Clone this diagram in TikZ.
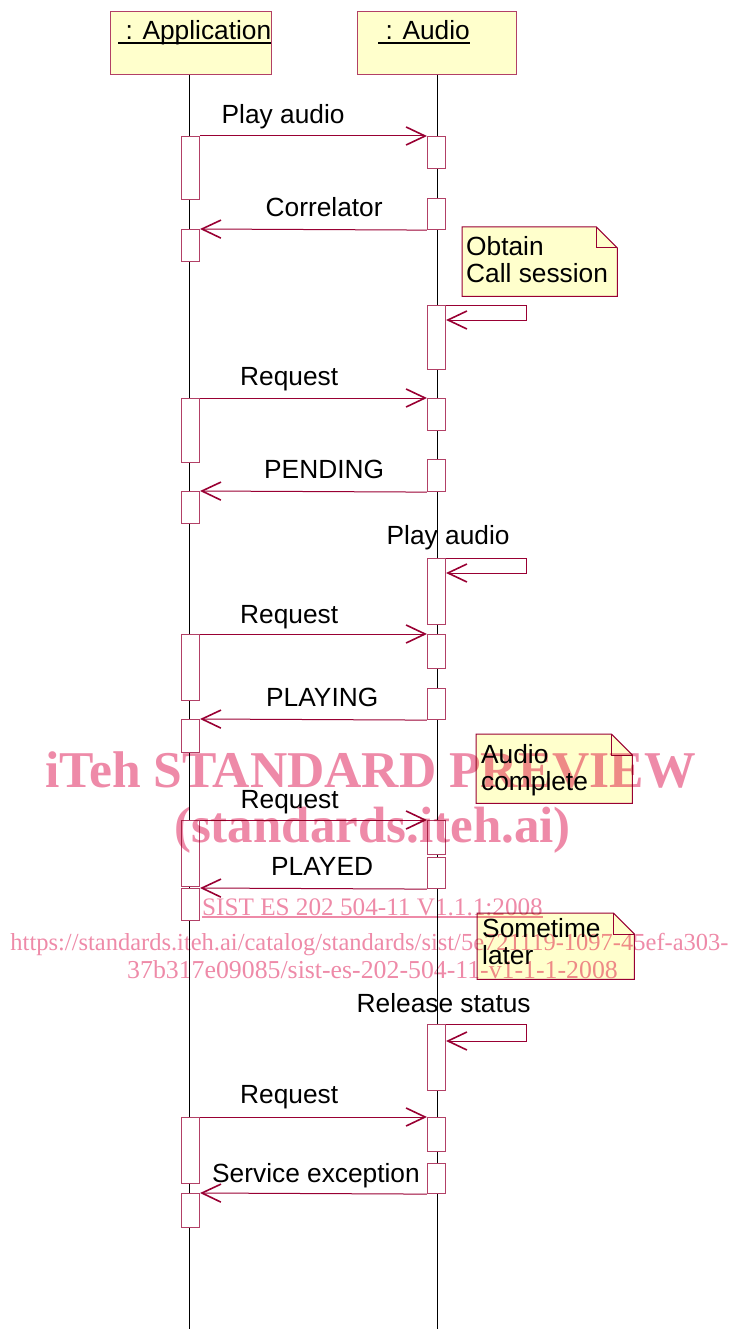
\documentclass[tikz,border=0pt]{standalone}
\usepackage{fontspec}
\setmainfont{Liberation Sans}
\newfontfamily\wmfont{Liberation Serif}
\usetikzlibrary{arrows.meta,calc,positioning}
\definecolor{umlred}{HTML}{990033}
\definecolor{umlfill}{HTML}{FFFFCC}
\definecolor{wmpink}{HTML}{EE8AA8}
\tikzset{
  head/.style={draw=umlred!75, fill=umlfill, line width=1pt, inner sep=0, anchor=north},
  act/.style={draw=umlred!75, fill=white, line width=1.1pt, minimum width=18, inner sep=0, anchor=north},
  life/.style={draw=black, line width=1pt},
  msg/.style={draw=umlred, line width=1pt, -{Straight Barb[length=19pt,width=18pt,line width=1.6pt]}},
  lbl/.style={font=\fontsize{26.3}{27}\selectfont, inner sep=0, anchor=base west},
  notebox/.style={inner sep=0, anchor=north west},
  notetext/.style={font=\fontsize{26.3}{27}\selectfont, inner sep=0, anchor=north west, align=left},
  wm/.style={text=wmpink, inner sep=0, anchor=base},
}
% note outline with folded corner
\newcommand\notepath[1]{%
  \draw[umlred, line width=1pt, fill=umlfill] (#1.north west) -- ($(#1.north east)+(-21,0)$)
    -- ($(#1.north east)+(0,21)$) -- (#1.south east) -- (#1.south west) -- cycle;
  \draw[umlred, line width=1pt] ($(#1.north east)+(-21,0)$) |- ($(#1.north east)+(0,21)$);}
\begin{document}
\begin{tikzpicture}[x=1pt, y=-1pt]
\useasboundingbox (0,0) rectangle (733,1329);
% Oggetti
\node[head, minimum width=161, minimum height=63] (app) at (190.5,11) {};
\node[head, minimum width=159, minimum height=63] (audio) at (436.5,11) {};
\node[lbl] (appname) at (118,40) {\ : Application};
\node[lbl] (audioname) at (378,40) {\ : Audio};
\draw[line width=1.4pt] ($(appname.base west)+(0,3)$) -- ($(appname.base east)+(0,3)$);
\draw[line width=1.4pt] ($(audioname.base west)+(0,3)$) -- ($(audioname.base east)+(0,3)$);
% Linee di vita
\coordinate (append) at (189.5,1329);
\coordinate (audioend) at (437,1329);
\draw[life] (app.south -| append) -- (append);
\draw[life] (audio.south -| audioend) -- (audioend);
% Note
\node[notebox, minimum width=155, minimum height=69] (n1) at (462,227) {};
\node[notebox, minimum width=156, minimum height=69] (n2) at (476,734) {};
\node[notebox, minimum width=157, minimum height=66] (n3) at (477,913) {};
\notepath{n1}
\notepath{n2}
\notepath{n3}
\node[notetext] (n1t) at ($(n1.north west)+(4,9.2)$) {Obtain\\Call session};
\node[notetext] (n2t) at ($(n2.north west)+(5,10.2)$) {Audio\\complete};
\node[notetext] (n3t) at ($(n3.north west)+(5,5.7)$) {Sometime\\later};
% Attivazioni
\foreach \n/\x/\t/\h in {a1/190.5/136/63, a2/190.5/229/32, a3/190.5/398/64, a4/190.5/491/32,
  a5/190.5/634/66, a6/190.5/719/33, a7/190.5/820/66, a8/190.5/888/32, a9/190.5/1117/66,
  a10/190.5/1193/34}{
  \node[act, minimum height=\h] (\n) at (\x,\t) {};
}
\foreach \n/\x/\t/\h in {b1/436.5/136/32, b2/436.5/198/31, b3/436.5/305/64, b4/436.5/398/32,
  b5/436.5/459/32, b6/436.5/558/66, b7/436.5/634/34, b8/436.5/688/31, b9/436.5/820/34,
  b10/436.5/857/31, b11/436.5/1024/66, b12/436.5/1117/34, b13/436.5/1163/30}{
  \node[act, minimum height=\h] (\n) at (\x,\t) {};
}
% Messaggi
\draw[msg] (a1.north east) -- (b1.north west);
\draw[msg] (b2.south west) -- (a2.north east);
\draw[msg] (b3.north east) -- ++(80,0) |- ($(b3.north east)+(0,15)$);
\draw[msg] (a3.north east) -- (b4.north west);
\draw[msg] (b5.south west) -- (a4.north east);
\draw[msg] (b6.north east) -- ++(80,0) |- ($(b6.north east)+(0,15)$);
\draw[msg] (a5.north east) -- (b7.north west);
\draw[msg] (b8.south west) -- (a6.north east);
\draw[msg] (a7.north east) -- (b9.north west);
\draw[msg] (b10.south west) -- (a8.north east);
\draw[msg] (b11.north east) -- ++(80,0) |- ($(b11.north east)+(0,17)$);
\draw[msg] (a9.north east) -- (b12.north west);
\draw[msg] (b13.south west) -- (a10.north east);
% Etichette
\node[lbl] (l1) at (221.5,123.5) {Play audio};
\node[lbl] (l2) at (265.5,216.7) {Correlator};
\node[lbl] (l3) at (240,385.7) {Request};
\node[lbl] (l4) at (264,478.3) {PENDING};
\node[lbl] (l5) at (386.5,544) {Play audio};
\node[lbl] (l6) at (240,623.3) {Request};
\node[lbl] (l7) at (266,706) {PLAYING};
\node[lbl] (l8) at (240.5,808.3) {Request};
\node[lbl] (l9) at (271,875) {PLAYED};
\node[lbl] (l10) at (356.5,1012) {Release status};
\node[lbl] (l11) at (240,1103.3) {Request};
\node[lbl] (l12) at (212,1182.7) {Service exception};
% Filigrana
\begin{scope}[blend mode=multiply]
\node[wm, font=\wmfont\bfseries\fontsize{51.6}{52}\selectfont] (wm1) at (370.5,787) {iTeh STANDARD PREVIEW};
\node[wm, font=\wmfont\bfseries\fontsize{51}{52}\selectfont] (wm2) at (372.5,842) {(standards.iteh.ai)};
\node[wm, font=\wmfont\fontsize{25.2}{26}\selectfont] (wm3) at (372.5,915) {SIST ES 202 504-11 V1.1.1:2008};
\draw[wmpink, line width=1.2pt] ($(wm3.base west)+(0,2)$) -- ($(wm3.base east)+(0,2)$);
\node[wm, font=\wmfont\fontsize{24.5}{26}\selectfont] (wm4) at (369.5,950) {https://standards.iteh.ai/catalog/standards/sist/5e721119-1097-45ef-a303-};
\node[wm, font=\wmfont\fontsize{25.8}{26}\selectfont] (wm5) at (372.5,978) {37b317e09085/sist-es-202-504-11-v1-1-1-2008};
\end{scope}
\end{tikzpicture}
\end{document}
